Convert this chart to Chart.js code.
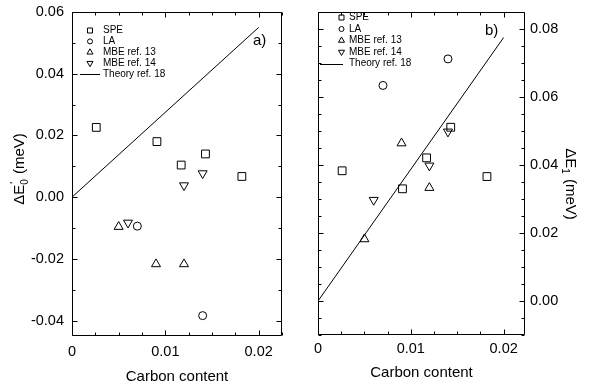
<!DOCTYPE html>
<html lang="en">
<head>
<meta charset="UTF-8" />
<title>Carbon content</title>
<script src="https://cdn.jsdelivr.net/npm/chart.js"></script>
<style>
  body { margin: 0; background: #fff; width: 589px; height: 387px; overflow: hidden; position: relative; }
  canvas { position: absolute; top: 0; }
  #chartA { left: 0; }
  #chartB { left: 300px; }
</style>
</head>
<body>
<canvas id="chartA" width="300" height="387"></canvas>
<canvas id="chartB" width="289" height="387"></canvas>

<script>
  const seriesNames = ['SPE', 'LA', 'MBE ref. 13', 'MBE ref. 14', 'Theory ref. 18'];

  // carbon content of the samples (same in both panels)
  const speX = [0.0026, 0.0091, 0.0117, 0.0143, 0.0182];
  const laX = [0.0070, 0.0140];
  const mbe13X = [0.0050, 0.0090, 0.0120];
  const mbe14X = [0.0060, 0.0120, 0.0140];
  const theoryX = [0, 0.02];

  // panel a) dE0' (meV)
  const speA = [0.0226, 0.0180, 0.0104, 0.0140, 0.0067];
  const laA = [-0.0094, -0.0384];
  const mbe13A = [-0.0096, -0.0217, -0.0217];
  const mbe14A = [-0.0083, 0.0038, 0.0077];
  const theoryA = [0, 0.055];

  // panel b) dE1 (meV)
  const speB = [0.0383, 0.0330, 0.0421, 0.0511, 0.0366];
  const laB = [0.0634, 0.0712];
  const mbe13B = [0.0182, 0.0464, 0.0333];
  const mbe14B = [0.0297, 0.0398, 0.0498];
  const theoryB = [0, 0.0775];

  const xTicks = [0, 0.01, 0.02];

  const FONT = '"Liberation Sans", Arial, sans-serif';
  Chart.defaults.font.family = FONT;
  Chart.defaults.color = '#000';

  const pts = (xs, ys) => xs.map((x, i) => ({ x, y: ys[i] }));

  function marker(label, data, style, radius, rotation) {
    return {
      type: 'scatter', label, data,
      pointStyle: style, pointRadius: radius, pointRotation: rotation || 0,
      borderColor: '#000', backgroundColor: 'rgba(0,0,0,0)', borderWidth: 1,
    };
  }

  function buildSets(spe, la, m13, m14, th) {
    return [
      marker(seriesNames[0], pts(speX, spe), 'rect', 5.5),
      marker(seriesNames[1], pts(laX, la), 'circle', 4),
      marker(seriesNames[2], pts(mbe13X, m13), 'triangle', 5.2),
      marker(seriesNames[3], pts(mbe14X, m14), 'triangle', 5.2, 180),
      {
        type: 'line', label: seriesNames[4], data: pts(theoryX, th),
        borderColor: '#000', borderWidth: 1, pointRadius: 0, showLine: true, fill: false,
      },
    ];
  }

  function drawMark(ctx, style, rot, cx, cy, r) {
    ctx.beginPath();
    if (style === 'rect') {
      ctx.rect(cx - r, cy - r, 2 * r, 2 * r);
    } else if (style === 'circle') {
      ctx.arc(cx, cy, r, 0, Math.PI * 2);
    } else {
      for (let k = 0; k < 3; k++) {
        const a = (rot + k * 120) * Math.PI / 180;
        const px = cx + Math.sin(a) * r * 1.3, py = cy - Math.cos(a) * r * 1.3;
        k ? ctx.lineTo(px, py) : ctx.moveTo(px, py);
      }
      ctx.closePath();
    }
    ctx.stroke();
  }

  // rotated axis title "ΔE" + subscript (+ optional prime) + " (meV)"
  function drawYTitle(ctx, t) {
    const big = '15px ' + FONT, small = '10px ' + FONT;
    ctx.save();
    ctx.translate(t.x, t.y);
    ctx.rotate(t.rot);
    ctx.font = big;
    const w1 = ctx.measureText('\u0394E').width;
    const w3 = ctx.measureText(t.tail).width;
    ctx.font = small;
    const w2 = Math.max(ctx.measureText(t.sub).width, t.prime ? ctx.measureText("'").width : 0) + 1;
    let x = -(w1 + w2 + w3) / 2;
    ctx.textBaseline = 'alphabetic';
    ctx.textAlign = 'left';
    ctx.font = big;
    ctx.fillText('\u0394E', x, 5);
    x += w1;
    ctx.font = small;
    ctx.fillText(t.sub, x, 9);
    if (t.prime) ctx.fillText("'", x + 1, -1);
    x += w2;
    ctx.font = big;
    ctx.fillText(t.tail, x, 5);
    ctx.restore();
  }

  // panel settings that the plugin below reads
  const frames = {
    chartA: {
      xMinor: 0.0025, xMajor: 0.01, yMinor: 0.01, yMajor: 0.02,
      tag: { text: 'a)', x: 253, y: 41 },
      legend: { x: 90, textX: 103, y: 30.5, dy: 10.9, lineFrom: 80, lineTo: 100 },
      title: { x: 19, y: 169, rot: -Math.PI / 2, sub: '0', prime: true, tail: ' (meV)' },
    },
    chartB: {
      xMinor: 0.0025, xMajor: 0.01, yMinor: 0.005, yMajor: 0.02,
      tag: { text: 'b)', x: 185, y: 31 },
      legend: { x: 41.5, textX: 49, y: 17.5, dy: 11.5, lineFrom: 20, lineTo: 43 },
      title: { x: 271, y: 184, rot: Math.PI / 2, sub: '1', prime: false, tail: ' (meV)' },
    },
  };

  // box with inward ticks on four sides, panel tag, small legend, y title
  const framePlugin = {
    id: 'frame',
    afterDraw(chart) {
      const o = frames[chart.canvas.id];
      const { ctx, chartArea: a } = chart;
      const sx = chart.scales.x, sy = chart.scales.y;
      const L = Math.round(a.left) + 0.5, R = Math.round(a.right) - 0.5;
      const T = Math.round(a.top) + 0.5, B = Math.round(a.bottom) - 0.5;
      ctx.save();
      ctx.strokeStyle = '#000';
      ctx.lineWidth = 1;
      ctx.beginPath();
      ctx.rect(L, T, R - L, B - T);
      let n = Math.round(o.xMajor / o.xMinor);
      for (let i = Math.ceil(sx.min / o.xMinor - 1e-6); i * o.xMinor <= sx.max + 1e-9; i++) {
        const p = Math.round(sx.getPixelForValue(i * o.xMinor)) + 0.5;
        const len = i % n === 0 ? 5 : 3;
        ctx.moveTo(p, B); ctx.lineTo(p, B - len);
        ctx.moveTo(p, T); ctx.lineTo(p, T + len);
      }
      n = Math.round(o.yMajor / o.yMinor);
      for (let i = Math.ceil(sy.min / o.yMinor - 1e-6); i * o.yMinor <= sy.max + 1e-9; i++) {
        const p = Math.round(sy.getPixelForValue(i * o.yMinor)) + 0.5;
        const len = i % n === 0 ? 5 : 3;
        ctx.moveTo(L, p); ctx.lineTo(L + len, p);
        ctx.moveTo(R, p); ctx.lineTo(R - len, p);
      }
      ctx.stroke();

      ctx.fillStyle = '#000';
      ctx.textBaseline = 'middle';
      ctx.textAlign = 'left';
      ctx.font = '15px ' + FONT;
      ctx.fillText(o.tag.text, o.tag.x, o.tag.y);

      const lg = o.legend;
      ctx.font = '10px ' + FONT;
      chart.data.datasets.forEach((ds, i) => {
        const y = lg.y + i * lg.dy;
        if (ds.showLine) {
          ctx.beginPath();
          ctx.moveTo(lg.lineFrom, Math.round(y) + 0.5);
          ctx.lineTo(lg.lineTo, Math.round(y) + 0.5);
          ctx.stroke();
        } else {
          drawMark(ctx, ds.pointStyle, ds.pointRotation, lg.x, y, ds.pointStyle === 'triangle' ? 2.7 : 2.5);
        }
        ctx.fillText(ds.label, lg.textX, y);
      });
      drawYTitle(ctx, o.title);
      ctx.restore();
    }
  };

  function makeChart(id, datasets, c) {
    return new Chart(document.getElementById(id), {
      type: 'scatter',
      data: { datasets },
      options: {
        responsive: false,
        animation: false,
        events: [],
        layout: { padding: c.padding },
        plugins: { legend: { display: false }, tooltip: { enabled: false } },
        scales: {
          x: {
            type: 'linear', min: 0, max: c.xMax,
            grid: { display: false, drawTicks: false }, border: { display: false },
            afterBuildTicks: s => { s.ticks = xTicks.map(v => ({ value: v })); },
            afterFit: s => { s.height = c.xHeight; s.paddingLeft = 0; s.paddingRight = 0; },
            ticks: {
              font: { size: 14.5 }, color: '#000', padding: c.xTickPad, maxRotation: 0, autoSkip: false,
              callback: v => (v === 0 ? '0' : v.toFixed(2)),
            },
            title: { display: true, text: 'Carbon content', font: { size: 15 }, color: '#000', padding: { top: 0, bottom: c.xTitlePad } },
          },
          y: {
            type: 'linear', position: c.yPos, min: c.yMin, max: c.yMax,
            grid: { display: false, drawTicks: false }, border: { display: false },
            afterFit: s => { s.width = c.yWidth; s.paddingTop = 0; s.paddingBottom = 0; },
            ticks: {
              font: { size: 14.5 }, color: '#000', padding: c.yTickPad, stepSize: 0.02, includeBounds: false,
              callback: v => v.toFixed(2),
            },
          },
        },
      },
      plugins: [framePlugin],
    });
  }

  makeChart('chartA', buildSets(speA, laA, mbe13A, mbe14A, theoryA), {
    padding: { left: 0, right: 18, top: 12, bottom: 0 },
    xMax: 0.0225, xHeight: 51, xTickPad: 7, xTitlePad: 1.3,
    yPos: 'left', yMin: -0.045, yMax: 0.06, yWidth: 72, yTickPad: 8,
  });

  makeChart('chartB', buildSets(speB, laB, mbe13B, mbe14B, theoryB), {
    padding: { left: 18, right: 0, top: 12, bottom: 0 },
    xMax: 0.0223, xHeight: 52, xTickPad: 5, xTitlePad: 5.3,
    yPos: 'right', yMin: -0.01, yMax: 0.085, yWidth: 64, yTickPad: 5,
  });
</script>
</body>
</html>
